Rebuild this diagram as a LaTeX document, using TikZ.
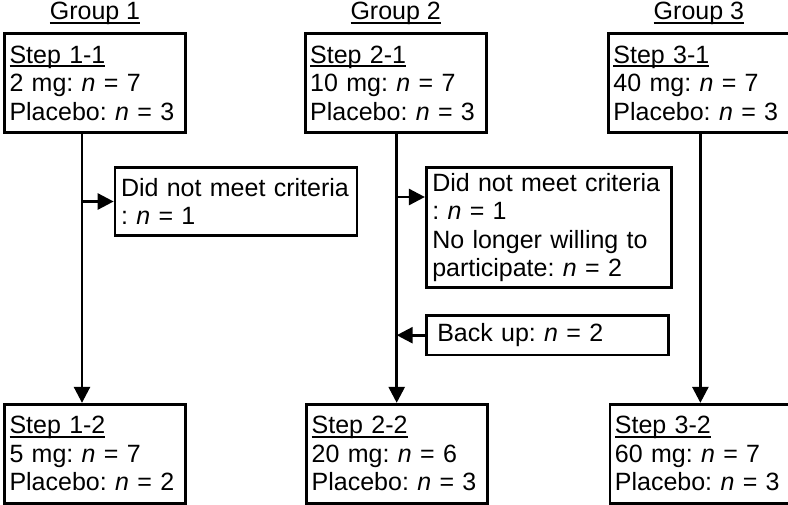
\documentclass[tikz,border=0pt]{standalone}
\usepackage{fontspec}
\setmainfont{Liberation Sans}
\usepackage{tikz}
\usetikzlibrary{arrows.meta, positioning}
\frenchspacing
\tikzset{
  block/.style   = {draw, line width=2.7pt, rectangle, align=left,
                    inner ysep=0pt, font=\fontsize{25}{28.5}\selectfont},
  stepbox/.style = {block, text width=171pt, inner xsep=5pt,
                    minimum height=99pt},
  note/.style    = {block, inner xsep=6pt},
  head/.style    = {inner sep=0pt, font=\fontsize{25}{28.5}\selectfont},
  arr/.style     = {-{Triangle[length=16pt, width=16pt]}, line width=2.7pt}
}
\newcommand{\nn}{\textit{n}}
\newcommand{\uln}[1]{\leavevmode\setbox0\hbox{#1}%
  \rlap{\vrule height -2.3pt depth 4.3pt width \wd0}\box0}

\begin{document}
\begin{tikzpicture}[x=1pt, y=1pt]
  \useasboundingbox (0,0) rectangle (788,-504);
  % first step of each group
  \node[stepbox] (s11) at (95,-83)
    {\uln{Step 1-1}\\2 mg: \nn{} = 7\\Placebo: \nn{} = 3};
  \node[stepbox, right=117pt of s11] (s21)
    {\uln{Step 2-1}\\10 mg: \nn{} = 7\\Placebo: \nn{} = 3};
  \node[stepbox, right=119.5pt of s21] (s31)
    {\uln{Step 3-1}\\40 mg: \nn{} = 7\\Placebo: \nn{} = 3};
  \node[head, above=7pt of s11] (g1) {\uln{Group 1}};
  \node[head, above=7pt of s21] (g2) {\uln{Group 2}};
  \node[head, above=7pt of s31] (g3) {\uln{Group 3}};
  % second step
  \node[stepbox, below=269pt of s11] (s12)
    {\uln{Step 1-2}\\5 mg: \nn{} = 7\\Placebo: \nn{} = 2};
  \node[stepbox, below=269pt of s21, xshift=1.5pt] (s22)
    {\uln{Step 2-2}\\20 mg: \nn{} = 6\\Placebo: \nn{} = 3};
  \node[stepbox, below=269pt of s31, xshift=1.5pt] (s32)
    {\uln{Step 3-2}\\60 mg: \nn{} = 7\\Placebo: \nn{} = 3};
  % drop-outs and back up
  \node[note, text width=230pt, minimum height=68.5pt] (out1) at (236,-201.5)
    {Did not meet criteria\\: \nn{} = 1};
  \node[note, text width=233.5pt, minimum height=120.5pt] (out2) at (549,-227.5)
    {Did not meet criteria\\: \nn{} = 1\\No longer willing to\\participate: \nn{} = 2};
  \node[note, inner xsep=11pt, text width=220.5pt, minimum height=39.5pt,
        below=25pt of out2.south west, anchor=north west] (backup)
    {Back up: \nn{} = 2};
  \coordinate (l1) at ([xshift=-13pt]s11.south);
  \coordinate (l2) at ([xshift=1pt]s21.south);
  \coordinate (l3) at ([xshift=1.5pt]s31.south);
  \coordinate (o2) at ([yshift=30.5pt]out2.west);
  \draw[arr] (l1) -- (l1 |- s12.north);
  \draw[arr] (l2) -- (l2 |- s22.north);
  \draw[arr] (l3) -- (l3 |- s32.north);
  \draw[arr] (l1 |- out1.west) -- (out1.west);
  \draw[arr] (l2 |- o2) -- (o2);
  \draw[arr] (backup.west) -- (backup.west -| l2);
\end{tikzpicture}
\end{document}
